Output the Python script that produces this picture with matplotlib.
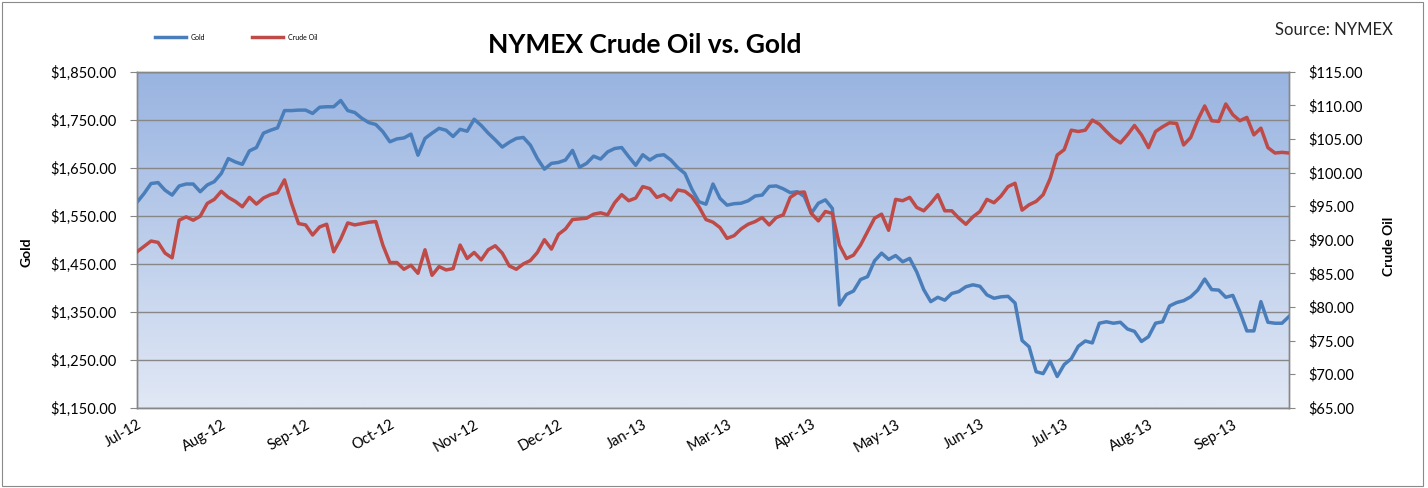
import numpy as np
import matplotlib
matplotlib.use("Agg")
import matplotlib.pyplot as plt
from matplotlib.colors import LinearSegmentedColormap
from matplotlib.patches import Rectangle
from matplotlib.ticker import FuncFormatter

plt.rcParams['font.family'] = ['Lato', 'DejaVu Sans']

month_labels = ["Jul-12", "Aug-12", "Sep-12", "Oct-12", "Nov-12", "Dec-12", "Jan-13",
                "Mar-13", "Apr-13", "May-13", "Jun-13", "Jul-13", "Aug-13", "Sep-13"]
label_every = 12  # data points between month labels

gold_ticks = [1150, 1250, 1350, 1450, 1550, 1650, 1750, 1850]
oil_ticks = [65, 70, 75, 80, 85, 90, 95, 100, 105, 110, 115]

gold = [
    1578, 1596, 1617, 1619, 1603, 1593, 1612, 1616, 1616, 1600, 1614, 1621, 1638, 1669,
    1662, 1657, 1685, 1692, 1722, 1728, 1733, 1769, 1769, 1770, 1770, 1763, 1776, 1777,
    1777, 1790, 1769, 1765, 1753, 1744, 1740, 1725, 1704, 1710, 1712, 1720, 1676, 1711,
    1722, 1732, 1728, 1715, 1730, 1726, 1751, 1738, 1722, 1708, 1693, 1703, 1711,
    1713, 1697, 1669, 1647, 1659, 1661, 1666, 1686, 1651, 1659, 1674, 1668, 1683, 1690,
    1692, 1673, 1655, 1677, 1666, 1675, 1677, 1666, 1650, 1638, 1605, 1579, 1574,
    1616, 1586, 1572, 1575, 1576, 1581, 1591, 1593, 1611, 1612, 1606, 1598, 1600, 1590,
    1555, 1576, 1583, 1565, 1364, 1386, 1393, 1417, 1423, 1456, 1472, 1459, 1467,
    1454, 1461, 1433, 1396, 1371, 1380, 1374, 1388, 1392, 1402, 1406, 1403, 1385, 1378,
    1381, 1382, 1368, 1290, 1277, 1225, 1221, 1247, 1215, 1240, 1252, 1278, 1289,
    1285, 1326, 1329, 1326, 1328, 1314, 1309, 1288, 1298, 1326, 1329, 1362, 1369, 1373,
    1381, 1395, 1418, 1396, 1395, 1380, 1384, 1350, 1310, 1310, 1371, 1328, 1326, 1326, 1340,
]

crude_oil = [
    88.2, 89.0, 89.8, 89.6, 88.0, 87.3, 92.9, 93.4, 92.9, 93.5, 95.4, 96.0, 97.2, 96.3,
    95.7, 94.9, 96.3, 95.3, 96.2, 96.7, 97.0, 98.9, 95.4, 92.4, 92.2, 90.7, 91.9, 92.3,
    88.2, 90.1, 92.5, 92.2, 92.4, 92.6, 92.7, 89.2, 86.6, 86.6, 85.6, 86.2, 85.0, 88.5,
    84.7, 86.0, 85.5, 85.7, 89.2, 87.2, 88.1, 87.0, 88.5, 89.1, 88.0, 86.1, 85.6,
    86.4, 86.9, 88.1, 90.0, 88.6, 90.8, 91.6, 93.0, 93.1, 93.2, 93.8, 94.0, 93.7, 95.5,
    96.7, 95.8, 96.2, 97.9, 97.6, 96.3, 96.7, 95.9, 97.4, 97.2, 96.4, 94.9, 93.0,
    92.6, 91.8, 90.2, 90.6, 91.6, 92.3, 92.7, 93.3, 92.2, 93.3, 93.7, 96.3, 97.0, 97.1,
    93.9, 92.8, 94.2, 93.9, 89.2, 87.2, 87.7, 89.2, 91.2, 93.2, 93.8, 91.4, 96.0,
    95.8, 96.3, 94.8, 94.3, 95.4, 96.7, 94.3, 94.3, 93.2, 92.3, 93.4, 94.2, 96.0, 95.5,
    96.5, 97.9, 98.4, 94.4, 95.2, 95.7, 96.7, 99.1, 102.6, 103.4, 106.3, 106.1, 106.3,
    107.8, 107.2, 106.1, 105.1, 104.4, 105.6, 107.0, 105.6, 103.7, 106.1, 106.8, 107.4, 107.3,
    104.1, 105.2, 107.8, 109.9, 107.7, 107.6, 110.2, 108.6, 107.7, 108.2, 105.6, 106.6,
    103.7, 102.9, 103.0, 102.9,
]

W, H = 1428, 488
fig = plt.figure(figsize=(W / 100, H / 100), dpi=100)
fig.patch.set_facecolor('white')
fig.add_artist(Rectangle((2 / W, 2 / H), (1423 - 2) / W, (486 - 2) / H, transform=fig.transFigure,
                         fill=False, edgecolor='#8a8a8a', lw=0.8))

left, right, top, bottom = 137, 1289, 71.7, 407.7
ax = fig.add_axes([left / W, 1 - bottom / H, (right - left) / W, (bottom - top) / H])

x = np.arange(len(gold))
n = len(gold)

# gradient background
cmap = LinearSegmentedColormap.from_list('bg', ['#e1e8f5', '#99b4e1'])
grad = np.linspace(0, 1, 256).reshape(-1, 1)
ax.imshow(grad, cmap=cmap, extent=[0, 1, 0, 1], transform=ax.transAxes, aspect='auto',
          origin='lower', zorder=0)

ax.plot(x, gold, color='#4a7ebb', lw=2.5, solid_joinstyle='round', zorder=3, label='Gold')
ax.set_xlim(0, n - 1)
ax.set_ylim(gold_ticks[0], gold_ticks[-1])
ax.set_yticks(gold_ticks)
ax.yaxis.set_major_formatter(FuncFormatter(lambda v, p: "${:,.2f}".format(v)))
ax.set_axisbelow(True)
ax.grid(axis='y', color='#878787', lw=1.0)

ax2 = ax.twinx()
ax2.plot(x, crude_oil, color='#be4b48', lw=2.5, solid_joinstyle='round', zorder=3, label='Crude Oil')
ax2.set_ylim(oil_ticks[0], oil_ticks[-1])
ax2.set_yticks(oil_ticks)
ax2.yaxis.set_major_formatter(FuncFormatter(lambda v, p: "${:,.2f}".format(v)))
ax2.set_xlim(0, n - 1)

tick_pos = np.arange(len(month_labels)) * label_every
ax.set_xticks(tick_pos)
ax.set_xticklabels(month_labels, rotation=30, ha='right', va='top', rotation_mode='anchor',
                   fontsize=10.5)
ax.tick_params(axis='x', length=0, pad=7)
ax.tick_params(axis='y', direction='out', length=5, width=0.8, color='#878787', pad=9.5,
               labelsize=10.5)
ax2.tick_params(axis='y', direction='out', length=4.5, width=0.8, color='#878787', pad=9.5,
                labelsize=10.5)

for a in (ax, ax2):
    for s in a.spines.values():
        s.set_color('#878787')
        s.set_linewidth(1.0)

ax.set_ylabel('Gold', fontsize=10, fontweight='bold')
ax.yaxis.set_label_coords(-0.0903, 0.463)
ax2.set_ylabel('Crude Oil', fontsize=10, fontweight='bold')
ax2.yaxis.set_label_coords(1.0816, 0.481)

fig.text(645 / W, 1 - 45 / H, 'NYMEX Crude Oil vs. Gold', fontsize=19, fontweight='bold',
         ha='center', va='center')
fig.text(1393 / W, 1 - 30 / H, 'Source: NYMEX', fontsize=12, ha='right', va='center',
         color='#262626')

h1, l1 = ax.get_legend_handles_labels()
h2, l2 = ax2.get_legend_handles_labels()
fig.legend(h1 + h2, l1 + l2, loc='center left', bbox_to_anchor=(155 / W, 1 - 37 / H),
           ncol=2, fontsize=5, frameon=False, handlelength=4.5, handletextpad=0.6,
           columnspacing=6.8, borderpad=0, borderaxespad=0)

fig.savefig('out.png', dpi=100, facecolor='white')
